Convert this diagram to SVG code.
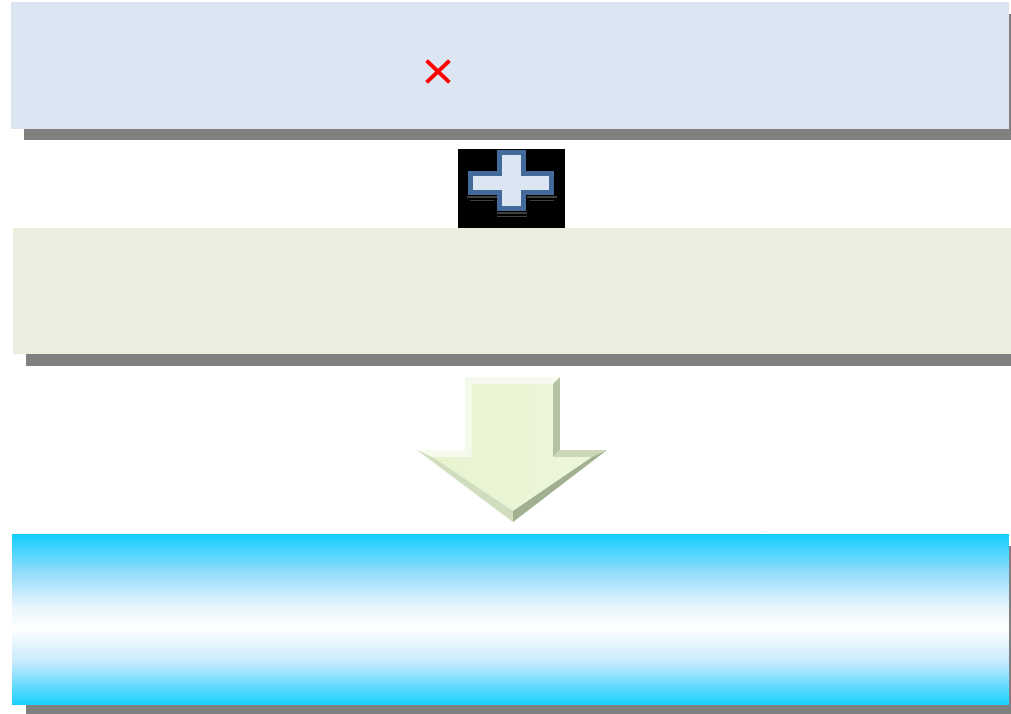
<svg xmlns="http://www.w3.org/2000/svg" width="1011" height="714" viewBox="0 0 1011 714">
<style>
.shadow{fill:#808080}
</style>
<defs>
<linearGradient id="sky" x1="0" y1="0" x2="0" y2="1">
<stop offset="0" stop-color="#0fcdfd"/>
<stop offset="0.22" stop-color="#8fdcfb"/>
<stop offset="0.42" stop-color="#e6f4fd"/>
<stop offset="0.55" stop-color="#ffffff"/>
<stop offset="0.75" stop-color="#c6eafd"/>
<stop offset="1" stop-color="#18cffd"/>
</linearGradient>
<linearGradient id="arrowFill" x1="0" y1="0" x2="1" y2="0">
<stop offset="0" stop-color="#e6f3cf"/>
<stop offset="1" stop-color="#eef7dc"/>
</linearGradient>
</defs>
<rect width="1011" height="714" fill="#ffffff"/>

<g id="box1">
<rect class="shadow" x="24" y="14" width="987" height="126"/>
<rect x="11" y="2" width="998" height="127" fill="#dce6f2"/>
<g id="redx" stroke="#ff0000" stroke-width="4" stroke-linecap="square">
<line x1="428" y1="62" x2="448" y2="81"/>
<line x1="448" y1="62" x2="428" y2="81"/>
</g>
</g>

<g id="plus">
<rect x="458" y="149" width="107" height="79" fill="#000000"/>
<g fill="#404040">
<rect x="467" y="196" width="30" height="2"/>
<rect x="527" y="196" width="30" height="2"/>
<rect x="497" y="212" width="30" height="2"/>
<rect x="497" y="216" width="30" height="1"/>
<rect x="470" y="200" width="24" height="1"/>
<rect x="530" y="200" width="24" height="1"/>
</g>
<path d="M497 150 H526 V171 H554 V195 H526 V211 H497 V195 H468 V171 H497 Z" fill="#426a9a"/>
<path d="M502 155 H521 V176 H549 V190 H521 V206 H502 V190 H473 V176 H502 Z" fill="#dce6f2"/>
</g>

<g id="box2">
<rect class="shadow" x="26" y="240" width="985" height="126"/>
<rect x="13" y="228" width="998" height="126" fill="#ebeedf"/>
</g>

<g id="connectors">
<g id="arrow">
<path d="M465 377 H560 V450 H607 L513 522 L417 450 H465 Z" fill="url(#arrowFill)"/>
<path d="M465 377 H560 L553 384 H472 Z" fill="#f7fbef"/>
<path d="M465 377 L472 384 V457 L465 450 Z" fill="#f4faea"/>
<path d="M560 377 V450 L553 457 V384 Z" fill="#b4c3a4"/>
<path d="M417 450 H465 L472 457 H432 Z" fill="#f6fbee"/>
<path d="M560 450 H607 L592 457 H553 Z" fill="#cbd8ba"/>
<path d="M592 457 L607 450 L513 522 L513 511 Z" fill="#a0b090"/>
<path d="M432 457 L417 450 L513 522 L513 511 Z" fill="#d0ddbf"/>
</g>
</g>

<g id="box3">
<rect class="shadow" x="26" y="546" width="985" height="168"/>
<rect x="12" y="534" width="997" height="171" fill="url(#sky)"/>
</g>
</svg>
